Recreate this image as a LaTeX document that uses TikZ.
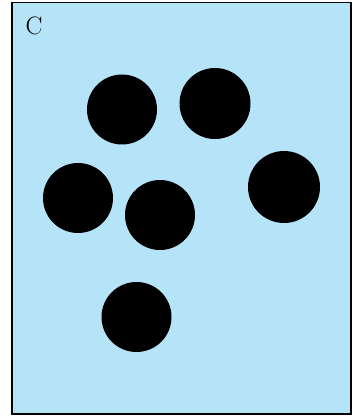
\documentclass[tikz,border=0pt]{standalone}
\usepackage{tikz}

\definecolor{paleblue}{RGB}{181,228,248}

\begin{document}
\begin{tikzpicture}[
  x=0.0265cm, y=-0.0265cm,
  every node/.style={font=\fontsize{19}{22}\selectfont},
  spot/.style={fill=black}
]
\useasboundingbox (0,0) rectangle (355,417);

% ---------- Panel ----------
\filldraw[fill=paleblue, draw=black, line width=1.4pt] (12,2.5) rectangle (351,414);

% ---------- Label ----------
\node (panelC) at (34,25.5) {C};

% ---------- Spots ----------
\foreach \cx/\cy/\r in {122/109.5/35, 215/103.5/35.5, 78/198/35,
                         160/215/35, 284/187/36, 136.5/317/35}
  \fill[spot] (\cx,\cy) circle (\r);

\end{tikzpicture}
\end{document}
